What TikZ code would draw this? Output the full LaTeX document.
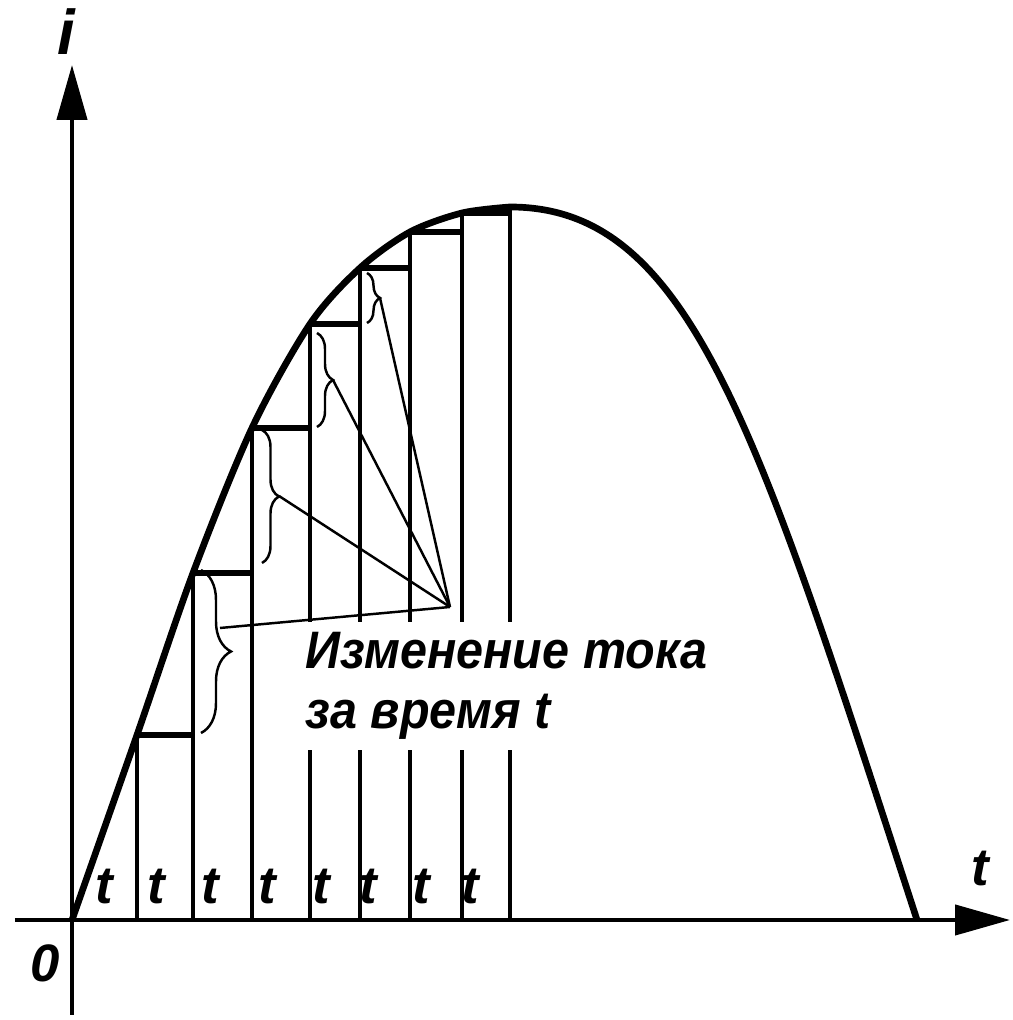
\documentclass[tikz,border=0pt]{standalone}
\usepackage{fontspec}
\setmainfont{Liberation Sans}
\usetikzlibrary{arrows.meta,decorations.pathreplacing}

\begin{document}
\begin{tikzpicture}[every node/.style={font=\bfseries\itshape\fontsize{15}{17}\selectfont, inner sep=1pt}, curve/.style={line width=1.9pt}, stair/.style={line width=1.6pt}, rib/.style={line width=1.2pt}, pointer/.style={line width=0.7pt}, curly/.style={decorate, decoration={brace, amplitude=#1}, line width=0.7pt}, >={Triangle[length=5.5mm,width=3mm]}]
        \useasboundingbox (-0.72,-1.00) rectangle (9.40,9.20);
        \coordinate (O) at (0,0);
        \coordinate (c1) at (0.65,1.85);
        \coordinate (c2) at (1.21,3.47);
        \coordinate (c3) at (1.80,4.92);
        \coordinate (c4) at (2.38,5.96);
        \coordinate (c5) at (2.88,6.52);
        \coordinate (c6) at (3.38,6.88);
        \coordinate (c7) at (3.90,7.07);
        \coordinate (c8) at (4.38,7.13);
        \coordinate (end) at (8.45,0);
        \draw[rib, ->] (0,-0.95) -- (0,8.55);
        \draw[rib, ->] (-0.57,0) -- (9.38,0);
        \foreach \k in {1,...,8}
            \draw[rib] (c\k |- O) -- (c\k);
        \foreach \k/\n in {1/2,2/3,3/4,4/5,5/6,6/7,7/8}
            \draw[stair] (c\k) -- (c\n |- c\k);
        \draw[curve] plot[smooth] coordinates {(O) (c1) (c2) (c3) (c4) (c5) (c6) (c7) (c8)} .. controls (6.18,7.13) and (6.85,4.93) .. (end);
        \node[fill=white, align=left, anchor=north west, inner xsep=4pt, inner ysep=3pt, xscale=0.92] (note) at (2.20,2.99) {Изменение тока\\за время t};
        \draw[curly=3mm] (1.29,3.50) -- (1.29,1.87);
        \draw[curly=1.7mm] (1.90,4.90) -- (1.90,3.57);
        \draw[curly=1.6mm] (2.45,5.87) -- (2.45,4.93);
        \draw[curly=1.3mm] (2.95,6.47) -- (2.95,5.97);
        \coordinate (tipA) at (1.48,2.92);
        \coordinate (tipB) at (2.07,4.24);
        \coordinate (tipC) at (2.61,5.40);
        \coordinate (tipD) at (3.08,6.22);
        \coordinate (focus) at (3.78,3.13);
        \draw[pointer] (tipA) -- (focus);
        \draw[pointer] (tipB) -- (focus);
        \draw[pointer] (tipC) -- (focus);
        \draw[pointer] (tipD) -- (focus);
        \foreach \x [count=\n] in {0.32,0.84,1.38,1.95,2.49,2.96,3.49,3.98}
            \node (dt\n) at (\x,0.33) {t};
        \node (zero) at (-0.27,-0.43) {0};
        \node (tname) at (9.08,0.51) {t};
        \node[font=\bfseries\itshape\fontsize{18}{20}\selectfont] (iname) at (-0.06,8.88) {i};
    \end{tikzpicture}
\end{document}
